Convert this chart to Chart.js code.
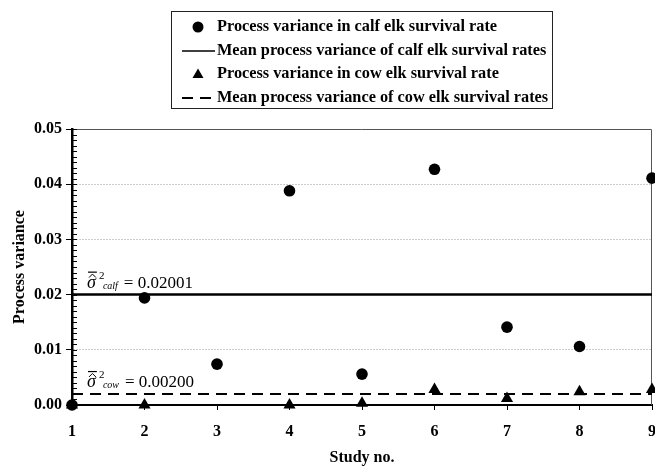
<!DOCTYPE html>
<html lang="en">
<head>
    <meta charset="UTF-8">
    <title>Process variance by study</title>
    <script src="https://cdn.jsdelivr.net/npm/chart.js"></script>
    <style>
        body { margin: 0; background: #fff; }
        #wrap { position: relative; width: 655px; height: 469px; overflow: hidden; }
        #legend {
            position: absolute; left: 171px; top: 11px; width: 380px; height: 94px;
            border: 1px solid #222; padding-top: 2px;
            font: bold 16.3px "Liberation Serif", "Times New Roman", serif; color: #000;
        }
        #legend div { height: 23.5px; line-height: 23.5px; white-space: nowrap; }
        #legend svg { vertical-align: middle; margin-left: 10px; margin-right: 2px; }
    </style>
</head>
<body>
<div id="wrap">
    <canvas id="chart"></canvas>
    <div id="legend"></div>
</div>
<script>
    // values
    const studies = [1, 2, 3, 4, 5, 6, 7, 8, 9];
    const calfVar = [0.0000, 0.0194, 0.0074, 0.0388, 0.0056, 0.0427, 0.0141, 0.0106, 0.0411];
    const cowVar = [0.0000, 0.0000, null, 0.0000, 0.0003, 0.0028, 0.0012, 0.0024, 0.0028];
    const calfMean = 0.02001;
    const cowMean = 0.00200;
    const yTickLabels = ['0.00', '0.01', '0.02', '0.03', '0.04', '0.05'];
    const yMinorStep = 0.001;

    const serif = '"Liberation Serif", "Times New Roman", serif';
    const boldFont = { family: serif, size: 16, weight: 'bold' };

    const toPoints = (vals) => studies.map((s, i) => ({ x: s, y: vals[i] }));
    const meanLine = (m) => [{ x: studies[0], y: m }, { x: studies[studies.length - 1], y: m }];

    // frame, minor ticks and the sigma labels
    const decor = {
        id: 'decor',
        beforeDatasetsDraw(chart) {
            const { ctx, chartArea: a, scales: { y } } = chart;
            ctx.save();
            ctx.strokeStyle = '#555';
            ctx.lineWidth = 1;
            ctx.beginPath();
            ctx.moveTo(a.left, a.top + 0.5);
            ctx.lineTo(a.right - 0.5, a.top + 0.5);
            ctx.lineTo(a.right - 0.5, a.bottom);
            ctx.stroke();
            ctx.strokeStyle = '#000';
            ctx.beginPath();
            for (let v = y.min; v <= y.max + 1e-9; v += yMinorStep) {
                const py = Math.round(y.getPixelForValue(v)) + 0.5;
                ctx.moveTo(a.left, py);
                ctx.lineTo(a.left + 5, py);
            }
            ctx.stroke();
            ctx.restore();
        },
        afterDatasetsDraw(chart) {
            const { ctx, scales: { x, y } } = chart;
            const drawLabel = (mean, sub) => {
                const px = x.getPixelForValue(studies[0]) + 15;
                const b = y.getPixelForValue(mean) - 7;
                ctx.save();
                ctx.fillStyle = '#000';
                ctx.strokeStyle = '#000';
                ctx.textBaseline = 'alphabetic';
                ctx.font = 'italic 18px ' + serif;
                ctx.fillText('σ', px, b);
                const w = ctx.measureText('σ').width;
                // overbar and hat
                ctx.fillRect(px + 1, b - 16, w, 1.2);
                ctx.lineWidth = 1;
                ctx.beginPath();
                ctx.moveTo(px + 2, b - 10);
                ctx.lineTo(px + 1 + w / 2, b - 13.5);
                ctx.lineTo(px + w, b - 10);
                ctx.stroke();
                ctx.font = '11px ' + serif;
                ctx.fillText('2', px + w + 3, b - 9);
                ctx.font = 'italic 10px ' + serif;
                ctx.fillText(sub, px + w + 7, b + 1);
                const sw = ctx.measureText(sub).width;
                ctx.font = '17px ' + serif;
                ctx.fillText('= ' + mean.toFixed(5), px + w + 13 + sw, b);
                ctx.restore();
            };
            drawLabel(calfMean, 'calf');
            drawLabel(cowMean, 'cow');
        }
    };

    const chart = new Chart(document.getElementById('chart'), {
        type: 'line',
        data: {
            datasets: [
                {
                    label: 'Process variance in calf elk survival rate',
                    data: toPoints(calfVar),
                    showLine: false,
                    pointStyle: 'circle',
                    pointRadius: 5.8,
                    backgroundColor: '#000',
                    borderColor: '#000',
                    borderWidth: 0,
                    clip: false
                },
                {
                    label: 'Mean process variance of calf elk survival rates',
                    data: meanLine(calfMean),
                    borderColor: '#000',
                    borderWidth: 2.5,
                    pointRadius: 0,
                    clip: false
                },
                {
                    label: 'Process variance in cow elk survival rate',
                    data: toPoints(cowVar),
                    showLine: false,
                    pointStyle: 'triangle',
                    pointRadius: 7,
                    backgroundColor: '#000',
                    borderColor: '#000',
                    borderWidth: 0,
                    clip: false
                },
                {
                    label: 'Mean process variance of cow elk survival rates',
                    data: meanLine(cowMean),
                    borderColor: '#000',
                    borderWidth: 2,
                    borderDash: [11, 7],
                    pointRadius: 0,
                    clip: false
                }
            ]
        },
        options: {
            responsive: true,
            maintainAspectRatio: false,
            animation: false,
            layout: { autoPadding: false, padding: { top: 129, right: 3, left: 0, bottom: 0 } },
            plugins: { legend: { display: false }, tooltip: { enabled: false } },
            scales: {
                x: {
                    type: 'linear',
                    min: studies[0],
                    max: studies[studies.length - 1],
                    ticks: { stepSize: 1, font: boldFont, color: '#000', padding: 12 },
                    grid: { drawOnChartArea: false, drawTicks: true, tickLength: 5, tickColor: '#000', tickWidth: 1 },
                    border: { color: '#000', width: 2 },
                    title: { display: true, text: 'Study no.', font: boldFont, color: '#000', padding: { top: 0, bottom: 2 } },
                    afterFit(s) { s.height = 64; s.paddingLeft = 0; s.paddingRight = 0; }
                },
                y: {
                    min: 0,
                    max: 0.05,
                    ticks: {
                        stepSize: 0.01,
                        font: boldFont,
                        color: '#000',
                        padding: 4,
                        callback: (v) => yTickLabels[Math.round(v * 100)]
                    },
                    grid: {
                        color: (c) => (c.index > 0 && c.index < yTickLabels.length - 1) ? '#999' : 'rgba(0,0,0,0)',
                        lineWidth: 1,
                        tickColor: '#000',
                        tickLength: 6
                    },
                    border: { color: '#000', width: 2.5, dash: [1, 2] },
                    title: { display: true, text: 'Process variance', font: boldFont, color: '#000', padding: { top: 10, bottom: 0 } },
                    afterFit(s) { s.width = 72; }
                }
            }
        },
        plugins: [decor]
    });

    // legend built from the datasets
    const legendEl = document.getElementById('legend');
    chart.data.datasets.forEach((ds) => {
        let sym;
        if (ds.pointStyle === 'circle') {
            sym = '<circle cx="16" cy="7" r="5.5" fill="#000"/>';
        } else if (ds.pointStyle === 'triangle') {
            sym = '<polygon points="16,1.5 21.5,11 10.5,11" fill="#000"/>';
        } else if (ds.borderDash) {
            sym = '<line x1="0" y1="7" x2="33" y2="7" stroke="#000" stroke-width="2" stroke-dasharray="11,7"/>';
        } else {
            sym = '<line x1="0" y1="7" x2="33" y2="7" stroke="#000" stroke-width="1.5"/>';
        }
        const row = document.createElement('div');
        row.innerHTML = '<svg width="33" height="14">' + sym + '</svg>' + ds.label;
        legendEl.appendChild(row);
    });
</script>
</body>
</html>
